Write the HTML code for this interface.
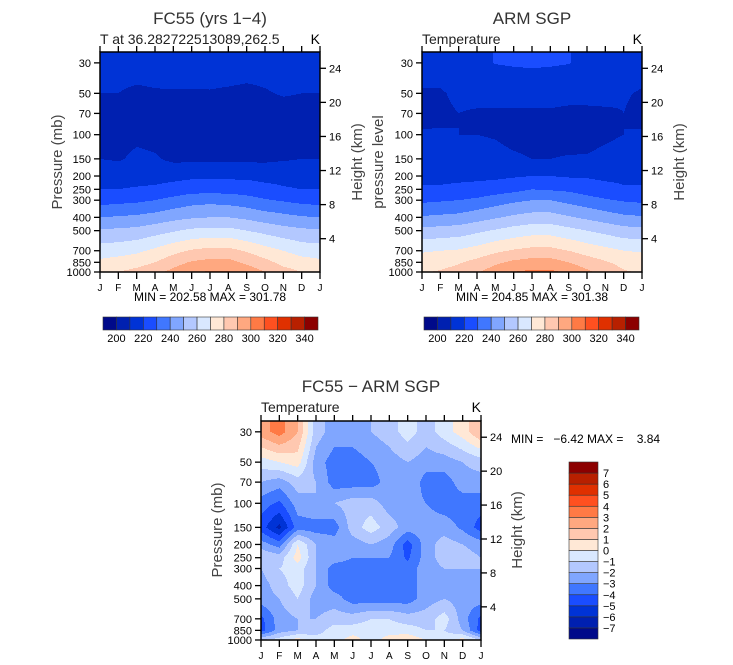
<!DOCTYPE html>
<html><head><meta charset="utf-8"><style>
body{margin:0;background:#fff}
svg{display:block;font-family:"Liberation Sans",sans-serif}
.pre{white-space:pre}
</style></head><body>
<svg id="s" width="733" height="665" viewBox="0 0 733 665">
<rect width="733" height="665" fill="#fff"/>
<g id="g1"></g>
<g id="g2"></g>
<g id="g3"></g>
<g id="txt" font-size="11" fill="#000">
<text x="210" y="24" font-size="17" text-anchor="middle" fill="#333">FC55 (yrs 1−4)</text>
<text x="100" y="44" font-size="14" fill="#222">T at 36.282722513089,262.5</text>
<text x="320" y="44" font-size="14" text-anchor="end">K</text>
<text x="210" y="301" font-size="12" text-anchor="middle">MIN = 202.58 MAX = 301.78</text>
<text transform="translate(62,162) rotate(-90)" font-size="15" text-anchor="middle" fill="#444">Pressure (mb)</text>
<text transform="translate(362,162) rotate(-90)" font-size="15" text-anchor="middle" fill="#444">Height (km)</text>
<text x="532" y="24" font-size="17" text-anchor="middle" fill="#333">ARM SGP</text>
<text x="422" y="44" font-size="14" fill="#222">Temperature</text>
<text x="642" y="44" font-size="14" text-anchor="end">K</text>
<text x="532" y="301" font-size="12" text-anchor="middle">MIN = 204.85 MAX = 301.38</text>
<text transform="translate(383,162) rotate(-90)" font-size="15" text-anchor="middle" fill="#444">pressure level</text>
<text transform="translate(684,162) rotate(-90)" font-size="15" text-anchor="middle" fill="#444">Height (km)</text>
<text x="371" y="392" font-size="17" text-anchor="middle" fill="#333">FC55 − ARM SGP</text>
<text x="261" y="412" font-size="14" fill="#222">Temperature</text>
<text x="481" y="412" font-size="14" text-anchor="end">K</text>
<text x="511" y="443" font-size="12" class="pre">MIN =   −6.42 MAX =    3.84</text>
<text transform="translate(222,530) rotate(-90)" font-size="15" text-anchor="middle" fill="#444">Pressure (mb)</text>
<text transform="translate(522,530) rotate(-90)" font-size="15" text-anchor="middle" fill="#444">Height (km)</text>
</g>
</svg>
<script>
const months=['J','F','M','A','M','J','J','A','S','O','N','D','J'];
const levels=[30,50,70,100,150,200,250,300,400,500,700,850,1000];
const heightTicks=[4,8,12,16,20,24];
const fc55=[
[214,214,215,215,216,216,217,217,216,215,215,214,214],
[210,210,208,209,209,209,209,208,207,209,211,210,210],
[205,205,204,204,204,204,204,204,204,204,205,205,205],
[206,206,208,207,204,204,204,204,204,204,204,205,206],
[210,209,212,211,208,208,208,208,208,208,209,210,210],
[216,216,216,216,217,218,218,218,218,217,217,216,216],
[220,220,221,222,224,226,226,226,225,223,221,220,220],
[226,227,228,230,233,236,237,236,234,231,229,227,226],
[240,241,242,244,247,249,250,250,248,245,243,241,240],
[251,252,253,256,259,262,263,263,260,257,254,252,251],
[265,266,268,272,277,281,283,283,279,274,270,266,265],
[272,274,276,280,286,291,293,293,288,283,277,274,272],
[278,280,283,287,293,299,301,301,296,290,284,280,278]];
const arm=[
[215,215,216,218,220.3,221,221.5,221,220.3,218,216,215,215],
[209,209,212,213,213,213,213,213,213,213,214,211,209],
[207,208,210,209,209,209,209,209,208,208,208,210,207],
[211,211,210,210,209,206,205,205,205,206,208,210,211],
[215,215,215,215,214,212,210,210,211,211,213,215,215],
[218,218,218,218,218,219,220,220,219,219,218,218,218],
[221,221,222,223,225,227,230,229,228,225,223,221,221],
[228,229,230,232,235,238,240,240,237,234,231,229,228],
[241,242,243,246,249,252,254,254,251,248,245,242,241],
[253,254,255,258,261,264,266,266,263,260,257,254,253],
[269,270,271,274,278,281,283,283,280,276,273,270,269],
[275,276,279,283,288,292,294,294,290,285,281,277,275],
[279,281,284,289,295,300,302,302,298,292,286,281,279]];
const diff=[
[2.5,3.5,2,-1.5,-2.5,-2.5,-2,-1.5,-0.5,-1.5,-0.5,0.5,2],
[-0.5,0,0.5,-2.5,-3.5,-3.5,-3,-2.5,-2,-2.5,-2.5,-2,-1.5],
[-2,-2.5,-1.5,-2,-3.5,-3.5,-3.5,-2.5,-2,-3.5,-3.5,-2.5,-2.5],
[-3.5,-4.2,-2.5,-2,-2,-1.5,-1.5,-2.5,-2.5,-3,-3.5,-3.5,-3.5],
[-4.5,-6.3,-3.5,-3.5,-3.5,-1.5,-0.5,-1.5,-2.5,-2.5,-2.5,-3.2,-4.5],
[-2.5,-3.5,0,-2,-2.5,-2.5,-2,-2.5,-4.5,-2.5,-1.5,-2,-2.5],
[-1,-1.5,0.5,-2,-2.5,-3,-3,-3,-4.2,-2.5,-1.5,-1.5,-2],
[-2,-1,-0.5,-2,-3.5,-3.5,-3.5,-3.5,-3.5,-2.5,-2,-2,-2],
[-2.5,-1.5,-0.5,-2,-3.5,-3.5,-3.5,-3.5,-3.5,-2.5,-2.5,-2.5,-2.5],
[-2.5,-2,-1,-2.5,-2.5,-3.5,-3.5,-3.5,-3.5,-2.5,-2,-2.5,-2.5],
[-4.3,-2.5,-2,-2,-1.5,-1.5,-1,-1,-1.5,-1.5,-0.5,-2.5,-4.3],
[-4.5,-2.5,-2,-1.5,-0.5,-0.5,-0.5,-0.5,-0.5,-1,-1,-2,-4.5],
[-1,-0.5,0.5,-0.5,-0.5,0.5,-0.5,0.5,0.8,0,-0.5,0.5,-1]];
const tBounds=[200,210,220,230,240,250,260,270,280,290,300,310,320,330,340];
const tLabels=[200,220,240,260,280,300,320,340];
const dBounds=[-7,-6,-5,-4,-3,-2,-1,0,1,2,3,4,5,6,7];
const colors=['#000a8a','#0020b0','#0033d6','#1a4dff','#4077ff','#80a6ff','#b3c8ff','#d9e8ff','#ffe8d6','#ffc8b0','#ffa880','#ff7a45','#ff5020','#e03000','#b82000','#8c0000'];

const NS='http://www.w3.org/2000/svg';
function mk(parent,tag,attrs){const e=document.createElementNS(NS,tag);for(const k in attrs)e.setAttribute(k,attrs[k]);parent.appendChild(e);return e;}
function cidx(v,b){let k=0;while(k<b.length&&v>=b[k])k++;return k;}

function panel(g,x0,y0,w,h,data,bounds,pfx){
  const lt=Math.log(25),lb=Math.log(1000);
  const yP=p=>y0+(Math.log(p)-lt)/(lb-lt)*h;
  const xM=i=>x0+i*w/12;
  const ll=levels.map(p=>Math.log(p));
  const cg=mk(g,'g',{});
  
  
  for(let y=0;y<h;y++){
    const lp=lt+(y+0.5)/h*(lb-lt);
    let j=0;while(j<ll.length-2&&lp>ll[j+1])j++;
    let ty=(lp-ll[j])/(ll[j+1]-ll[j]);ty=Math.max(0,Math.min(1,ty));
    let runStart=0,runC=-1;
    for(let x=0;x<=w;x++){
      let c=-1;
      if(x<w){
        const m=(x+0.5)/w*12;let i=Math.min(11,Math.floor(m));const tx=m-i;
        const v=(1-ty)*((1-tx)*data[j][i]+tx*data[j][i+1])+ty*((1-tx)*data[j+1][i]+tx*data[j+1][i+1]);
        c=cidx(v,bounds);
      }
      if(c!==runC){
        if(runC>=0){const r=mk(cg,'rect',{x:x0+runStart,y:y0+y,width:x-runStart+0.3,height:1.3,fill:colors[runC]});
          
          }
        runStart=x;runC=c;
      }
    }
  }
  const fr=mk(g,'rect',{x:x0,y:y0,width:w,height:h,fill:'none',stroke:'#000','stroke-width':1.5});
  
  
  months.forEach((m,i)=>{
    const x=xM(i);
    mk(g,'line',{x1:x,x2:x,y1:y0-6,y2:y0,stroke:'#000','stroke-width':1.3});
    mk(g,'line',{x1:x,x2:x,y1:y0+h,y2:y0+h+7,stroke:'#000','stroke-width':1.3});
    const t=mk(g,'text',{x:x,y:y0+h+19,'font-size':10,'text-anchor':'middle'});t.textContent=m;
    
    
  });
  levels.forEach(p=>{
    const y=yP(p);
    mk(g,'line',{x1:x0-6,x2:x0,y1:y,y2:y,stroke:'#000','stroke-width':1.3});
    const t=mk(g,'text',{x:x0-9,y:y+4,'font-size':11,'text-anchor':'end'});t.textContent=p;
    
    
  });
  heightTicks.forEach(hk=>{
    const y=yP(1013*Math.exp(-hk/7));
    mk(g,'line',{x1:x0+w,x2:x0+w+6,y1:y,y2:y,stroke:'#000','stroke-width':1.3});
    const t=mk(g,'text',{x:x0+w+9,y:y+4,'font-size':11});t.textContent=hk;
    
    
  });
}
function hbar(g,x0,y0,w,h,pfx){
  const bw=w/colors.length;
  colors.forEach((c,k)=>{
    const r=mk(g,'rect',{x:x0+k*bw,y:y0,width:bw,height:h,fill:c,stroke:'#333','stroke-width':0.6});
    
    
  });
  tLabels.forEach(v=>{
    const k=tBounds.indexOf(v)+1;
    const t=mk(g,'text',{x:x0+k*bw,y:y0+h+12,'font-size':11,'text-anchor':'middle'});t.textContent=v;
    
    
  });
}
function vbar(g,x0,y0,w,h){
  const bh=h/colors.length;
  colors.forEach((c,k)=>{
    const r=mk(g,'rect',{x:x0,y:y0+h-(k+1)*bh,width:w,height:bh,fill:c,stroke:'#333','stroke-width':0.6});
    
    
  });
  dBounds.forEach((v,k)=>{
    const t=mk(g,'text',{x:x0+w+5,y:y0+h-(k+1)*bh+4,'font-size':11});t.textContent=v<0?'−'+(-v):v;
    
    
  });
}
const g1=document.getElementById('g1'),g2=document.getElementById('g2'),g3=document.getElementById('g3');
panel(g1,100,52,220,220,fc55,tBounds,'fc55');
panel(g2,422,52,220,220,arm,tBounds,'arm');
panel(g3,261,421,220,219,diff,dBounds,'diff');
hbar(g1,103,317,215,13,'fc55');
hbar(g2,424,317,215,13,'arm');
vbar(g3,569,462,29,177);
</script>
</body></html>
